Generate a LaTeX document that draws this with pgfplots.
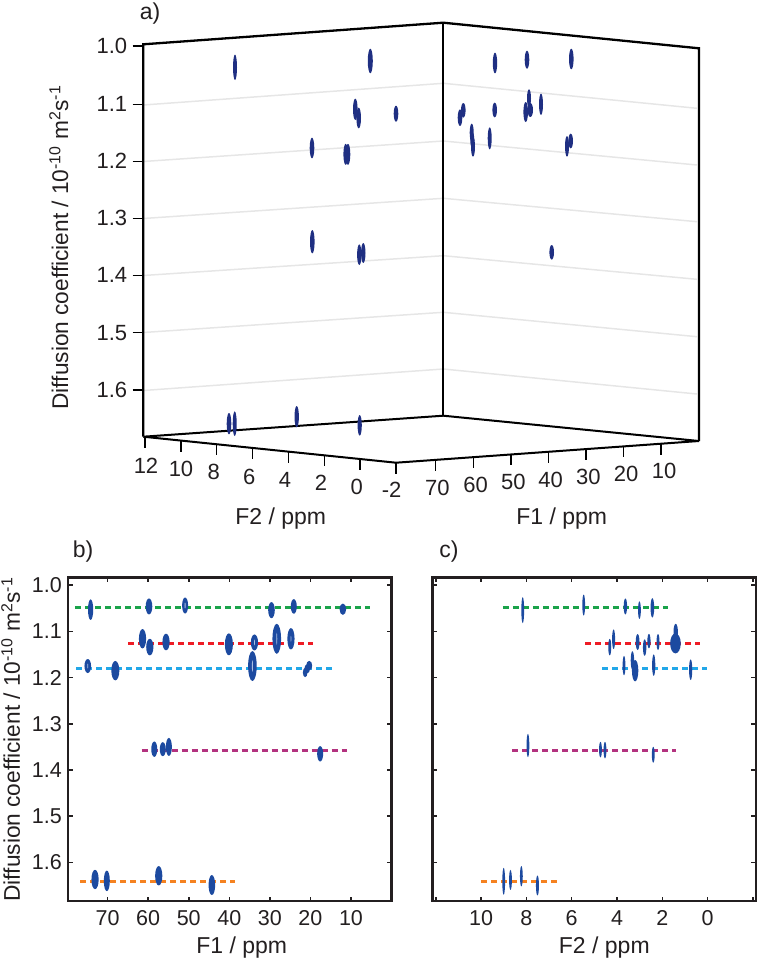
\documentclass[border=0pt]{standalone}
\usepackage{fontspec}
\setmainfont{Liberation Sans}
\usepackage{pgfplots}
\pgfplotsset{compat=1.18}
\definecolor{navyblob}{HTML}{1F2F82}
\definecolor{blueblob}{HTML}{1C4AA0}
\definecolor{holeblue}{HTML}{A9BEE2}
\definecolor{gridg}{HTML}{E6E6E6}
\definecolor{ink}{HTML}{231F20}
\definecolor{lgreen}{HTML}{1AA34A}
\definecolor{lred}{HTML}{EE1C25}
\definecolor{lblue}{HTML}{22A7E8}
\definecolor{lpurple}{HTML}{B3327F}
\definecolor{lorange}{HTML}{F58220}
\newcommand\fsa{\fontsize{22}{26}\selectfont}
\newcommand\fsb{\fontsize{21.5}{25}\selectfont}
\newcommand\fl{\fontsize{23}{27}\selectfont}
\newcommand\fy{\fontsize{22.7}{27}\selectfont}
\pgfdeclareplotmark{blob}{\pgfpathellipse{\pgfpointorigin}{\pgfpoint{\rx pt}{0pt}}{\pgfpoint{0pt}{\ry pt}}\pgfusepathqfill}
\pgfplotsset{
  blob/.style={scatter, only marks, mark=blob, point meta=x,
    scatter/use mapped color={draw=none, fill=#1},
    visualization depends on={value \thisrow{rx}\as\rx},
    visualization depends on={value \thisrow{ry}\as\ry}},
  dline/.style={#1, line width=2.4pt, dash pattern=on 6pt off 4pt, forget plot},
  panel/.style={scale only axis, y dir=reverse, x dir=reverse,
    ymin=0.9838, ymax=1.6836, ytick={1.0,1.1,1.2,1.3,1.4,1.5,1.6},
    axis line style={line width=2.4pt, ink},
    tick style={line width=1.6pt, ink}, major tick length=4.5pt,
    tick align=inside, tick pos=both, clip=false,
    tick label style={font=\fsb, text=ink},
    xticklabel shift={6pt}, yticklabel shift={3pt},
    yticklabel style={/pgf/number format/.cd, fixed, fixed zerofill, precision=1, assume math mode=true},
    xticklabel style={/pgf/number format/assume math mode=true},
  },
}
\newcommand\seg[5]{\addplot[#1] coordinates {(#2,#3) (#4,#5)};}
\newcommand\lab[3][]{\node[font=\fsa,text=ink,inner sep=0pt,#1] at (axis cs:#2) {#3};}
\newcommand\ylab{Diffusion coefficient / 10\textsuperscript{-10} m\textsuperscript{2}s\textsuperscript{-1}}
\begin{document}
\begin{tikzpicture}
\useasboundingbox (0,0) rectangle (760pt,961pt);
% ---------- panel a, in the reference's pixel frame
\begin{axis}[at={(0,0)}, anchor=south west, scale only axis, width=760pt, height=961pt,
  xmin=0, xmax=760, ymin=0, ymax=961, y dir=reverse, hide axis, clip=false]
% grid
\seg{gridg,line width=1.5pt}{143.3}{105}{443.3}{83.3}
\seg{gridg,line width=1.5pt}{443.3}{83.3}{697}{108.3}
\seg{gridg,line width=1.5pt}{143.3}{161.5}{443.3}{141}
\seg{gridg,line width=1.5pt}{443.3}{141}{697}{165}
\seg{gridg,line width=1.5pt}{143.3}{218.5}{443.3}{198.3}
\seg{gridg,line width=1.5pt}{443.3}{198.3}{697}{221.7}
\seg{gridg,line width=1.5pt}{143.3}{275.5}{443.3}{255.7}
\seg{gridg,line width=1.5pt}{443.3}{255.7}{697}{279.3}
\seg{gridg,line width=1.5pt}{143.3}{332.5}{443.3}{312.3}
\seg{gridg,line width=1.5pt}{443.3}{312.3}{697}{336.7}
\seg{gridg,line width=1.5pt}{143.3}{390.5}{443.3}{369}
\seg{gridg,line width=1.5pt}{443.3}{369}{697}{394}
% walls
\addplot[black,line width=2.3pt,line join=miter] coordinates {(143.3,436.7) (143.3,44.3) (443.3,22.7) (699,48.3) (699,441)};
\seg{black,line width=1.8pt}{443.3}{22.7}{443.3}{415.7}
\addplot[black,line width=2pt,line join=miter] coordinates {(143.3,436.7) (443.3,415.7) (699,441) (396,462.7) (143.3,436.7)};
% y ticks
\seg{black,line width=1.5pt}{132.7}{46}{143.3}{46}
\seg{black,line width=1.5pt}{132.7}{104.3}{143.3}{104.3}
\seg{black,line width=1.5pt}{132.7}{161.3}{143.3}{161.3}
\seg{black,line width=1.5pt}{132.7}{218.3}{143.3}{218.3}
\seg{black,line width=1.5pt}{132.7}{275.3}{143.3}{275.3}
\seg{black,line width=1.5pt}{132.7}{332.7}{143.3}{332.7}
\seg{black,line width=1.5pt}{132.7}{390}{143.3}{390}
% F2 ticks
\seg{black,line width=1.5pt}{145}{437}{145}{448}
\seg{black,line width=1.5pt}{181}{440.6}{181}{451.5}
\seg{black,line width=1.5pt}{216.7}{444.3}{216.7}{455}
\seg{black,line width=1.5pt}{252.7}{448}{252.7}{459}
\seg{black,line width=1.5pt}{288.3}{451.6}{288.3}{462.5}
\seg{black,line width=1.5pt}{324.3}{455.3}{324.3}{466}
\seg{black,line width=1.5pt}{360}{459}{360}{470}
\seg{black,line width=1.5pt}{396}{462.7}{396}{473.5}
% F1 ticks
\seg{black,line width=1.5pt}{435.7}{460}{435.7}{471}
\seg{black,line width=1.5pt}{473.3}{457.2}{473.3}{468}
\seg{black,line width=1.5pt}{511}{454.5}{511}{465}
\seg{black,line width=1.5pt}{548.7}{451.7}{548.7}{462.5}
\seg{black,line width=1.5pt}{586}{449}{586}{460}
\seg{black,line width=1.5pt}{623.3}{446.5}{623.3}{457}
\seg{black,line width=1.5pt}{661}{443.7}{661}{454.5}
% peaks
\addplot[blob=navyblob] table {
x y rx ry
235 67.3 2 12.7
370.3 61 2.5 12.3
355.3 109.3 2.3 10.7
358.7 118 2.3 10.3
396 113.7 2.3 8
312 148 2.3 10.3
345.7 154.3 2.3 10.5
348 154.3 2.3 10.5
312.3 241.7 2.3 11.7
359.3 254.7 2.2 10.3
363.3 253 2.2 10
229 423.7 2.3 10.7
234.7 423.7 2 12.3
296.7 416.7 2.2 10.7
359.7 425.3 2.1 10.3
495 63 2.2 10.3
527 59.7 2.3 9
571.3 59 2.3 10.3
529 98.3 2 9
525.7 112 2.3 10
530.3 110 2.7 7
541 104.3 2 10.7
494.7 110 2.3 7.3
463.3 110.3 2.3 7.3
460 117.7 2.3 8.3
471.7 132.7 2 9
472.3 140 2 8
473 146.7 2 10
489.7 138.3 2 11
567 146.3 2 10.3
570.7 141 2.3 7.3
551.7 252.3 2.3 7.3
};
% texts
\lab[font=\fl]{150,14}{a)}
\lab[anchor=east]{127.3,46}{1.0}
\lab[anchor=east]{127.3,104.3}{1.1}
\lab[anchor=east]{127.3,161.3}{1.2}
\lab[anchor=east]{127.3,218.3}{1.3}
\lab[anchor=east]{127.3,275.3}{1.4}
\lab[anchor=east]{127.3,332.7}{1.5}
\lab[anchor=east]{127.3,390}{1.6}
\lab[rotate=90,anchor=base,font=\fy]{68,247.5}{\ylab}
\lab{146,465.7}{12}
\lab{181,469}{10}
\lab{213.7,471.7}{8}
\lab{249.3,476.7}{6}
\lab{285,480}{4}
\lab{321,483.3}{2}
\lab{356.7,486.7}{0}
\lab{391.7,490}{-2}
\lab[anchor=base,font=\fl]{280.7,524}{F2 / ppm}
\lab{437.3,488.3}{70}
\lab{475.7,485}{60}
\lab{513.3,481.7}{50}
\lab{550.7,480}{40}
\lab{588.3,477.3}{30}
\lab{626,474}{20}
\lab{664,471}{10}
\lab[anchor=base,font=\fl]{561.7,524}{F1 / ppm}
\lab[font=\fl]{83,552}{b)}
\lab[font=\fl]{449,552}{c)}
\lab[rotate=90,anchor=base,font=\fy]{20,739.5}{\ylab}
\lab[anchor=base,font=\fl]{241.7,953}{F1 / ppm}
\lab[anchor=base,font=\fl]{604.3,953}{F2 / ppm}
\end{axis}
% ---------- panel b
\begin{axis}[panel, at={(68.3pt,60pt)}, anchor=south west, width=323.4pt, height=323.3pt,
  xmin=-0.04, xmax=79.7, xtick={70,60,50,40,30,20,10}]
\addplot[blob=blueblob] table {
x y rx ry
74.2 1.053 2.6 10.3
59.8 1.046 3.3 8
50.9 1.044 3 8
29.6 1.054 3.3 8
24.1 1.046 3 7.3
12.0 1.052 3.3 5.7
61.4 1.116 3.6 9.7
59.6 1.134 3.6 8.3
55.6 1.123 3.6 8.3
40.1 1.128 4 11
33.8 1.124 3.6 8
28.3 1.116 4.3 15
24.8 1.116 3.6 10.7
74.9 1.175 3.3 7
68.1 1.185 4 9.7
34.3 1.175 4.3 15
20.3 1.174 3 4.7
20.8 1.181 2.8 4.5
21.3 1.189 2.3 4.7
58.5 1.355 3 7.7
56.4 1.355 3 7
54.9 1.350 3 9
17.6 1.365 3 7.7
73.1 1.637 3.6 9.7
70.2 1.640 3 10.3
57.4 1.629 3.6 9.7
44.3 1.649 3.3 10
};
\addplot[blob=holeblue] table {
x y rx ry
34.3 1.175 0.5 6
28.3 1.116 0.5 6
24.8 1.116 0.4 3
33.8 1.124 0.4 3
50.9 1.044 0.6 3
74.9 1.175 0.4 2.5
};
\addplot[dline=lgreen] coordinates {(78.06,1.0487) (5.31,1.0487)};
\addplot[dline=lred] coordinates {(64.9,1.1258) (19.3,1.1258)};
\addplot[dline=lblue] coordinates {(77.8,1.18) (14.5,1.18)};
\addplot[dline=lpurple] coordinates {(61.6,1.3582) (10.9,1.3582)};
\addplot[dline=lorange] coordinates {(76.8,1.6418) (38.6,1.6418)};
\end{axis}
% ---------- panel c
\begin{axis}[panel, at={(432.3pt,60pt)}, anchor=south west, width=323.4pt, height=323.3pt,
  xmin=-2.12, xmax=12.15, xtick={12,10,8,6,4,2,0,-2}, xticklabels={,10,8,6,4,2,0,}, yticklabels={}]
\addplot[blob=blueblob] table {
x y rx ry
8.16 1.054 1.4 13
5.47 1.043 1.4 10.5
3.63 1.046 1.7 8
3.01 1.054 1.4 8.8
2.44 1.049 1.8 9.7
4.15 1.117 1.5 9.8
4.32 1.134 1.5 8.3
3.09 1.123 1.9 8
2.78 1.135 1.7 8.2
2.59 1.121 1.6 7.2
2.19 1.123 1.5 8
1.41 1.101 2.2 8
1.42 1.126 5.3 10
3.69 1.174 1.4 9.7
3.20 1.185 3.2 10.7
3.32 1.163 1.7 9.3
2.38 1.173 1.6 10.7
0.75 1.183 1.6 10.3
7.93 1.347 1.4 11.7
4.73 1.356 1.4 7.8
4.53 1.357 1.4 8.3
2.40 1.367 1.4 8
9.0 1.641 1.4 13.5
8.7 1.638 1.4 10
8.22 1.630 1.4 10.2
7.51 1.650 1.5 10
};
\addplot[dline=lgreen] coordinates {(9.04,1.0487) (1.74,1.0487)};
\addplot[dline=lred] coordinates {(5.41,1.1258) (0.34,1.1258)};
\addplot[dline=lblue] coordinates {(4.65,1.18) (0.02,1.18)};
\addplot[dline=lpurple] coordinates {(8.62,1.3582) (1.41,1.3582)};
\addplot[dline=lorange] coordinates {(10,1.6418) (6.63,1.6418)};
\end{axis}
\end{tikzpicture}
\end{document}
